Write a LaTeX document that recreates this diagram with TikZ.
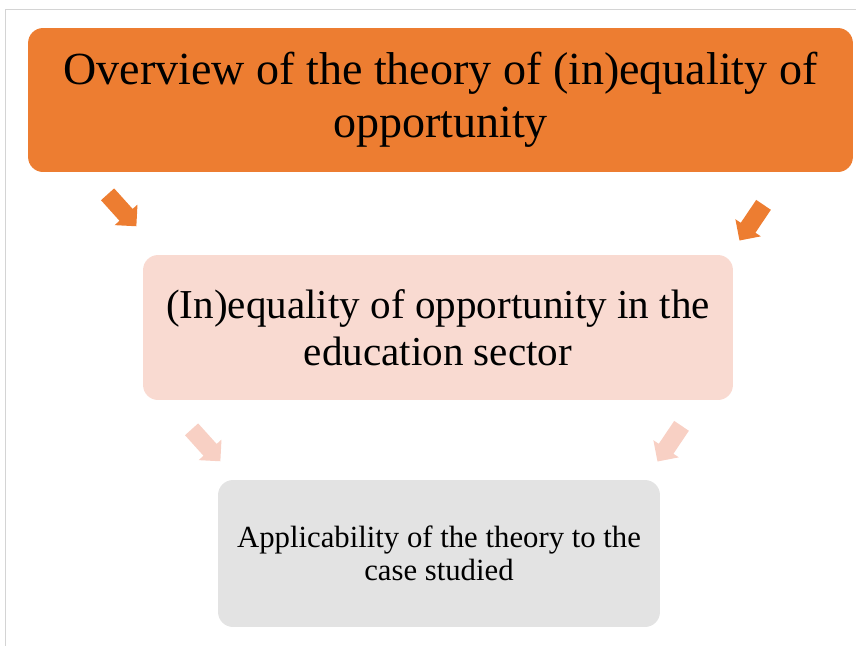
\documentclass[tikz,border=0pt]{standalone}
\usepackage{fontspec}
\setmainfont{Liberation Serif}
\usepackage{xcolor}
\usetikzlibrary{shapes.arrows}

\definecolor{topOrange}{HTML}{ED7D31}
\definecolor{midPink}{HTML}{F9DAD1}
\definecolor{arrowPink}{HTML}{F8D0C4}
\definecolor{lowGray}{HTML}{E3E3E3}
\definecolor{frameGray}{HTML}{D4D4D4}

\tikzset{
    level/.style={rounded corners=0.3cm, align=center, inner sep=0pt},
    blockarrow/.style={single arrow, draw=none, inner sep=0.17cm,
        single arrow head extend=0.13cm, minimum height=0.86cm}
}

\begin{document}
\begin{tikzpicture}[x=0.02cm, y=-0.02cm]
    \useasboundingbox (0,0) rectangle (856,646);

    % Draw frame lines
    \draw[frameGray, thin] (5,646) -- (5,9) -- (856,9);

    % Draw the three levels
    \node[level, fill=topOrange, minimum width=16.5cm, minimum height=2.88cm,
          font=\fontsize{26.2}{30}\selectfont] (overview) at (440.5,100)
        {Overview of the theory of (in)equality of\\opportunity};
    \node[level, fill=midPink, minimum width=11.8cm, minimum height=2.9cm,
          font=\fontsize{23.4}{26.6}\selectfont] (sector) at (438,327.5)
        {(In)equality of opportunity in the\\education sector};
    \node[level, fill=lowGray, minimum width=8.84cm, minimum height=2.94cm,
          font=\fontsize{17.5}{18.7}\selectfont] (applic) at (439,553.5)
        {Applicability of the theory to the\\case studied};

    % Add arrows between levels
    \node[blockarrow, fill=topOrange, rotate=-48] (arrA) at (119,207) {};
    \node[blockarrow, fill=topOrange, rotate=-124] (arrB) at (754,219) {};
    \node[blockarrow, fill=arrowPink, rotate=-48] (arrC) at (203,442) {};
    \node[blockarrow, fill=arrowPink, rotate=-124] (arrD) at (672,440) {};
\end{tikzpicture}
\end{document}
